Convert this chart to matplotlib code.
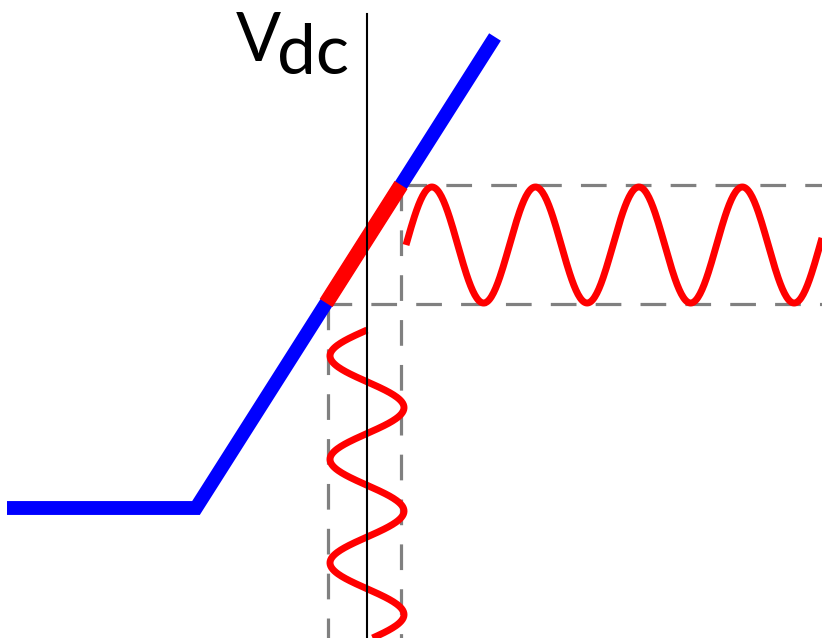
import numpy as np
import matplotlib.pyplot as plt

plt.rcParams['lines.scale_dashes'] = False

# Transfer curve (pixel-like units, y grows downward)
curve_x = [7, 196, 495]
curve_y = [508, 508, 37]

# Bias / operating range on the curve (output levels)
out_hi = 185
out_lo = 303

# Input sine (vertical, along the y axis)
in_center = 367
in_amp = 37
in_period = 103.5
in_start, in_end = 330, 638

# Output sine (horizontal)
out_center = 245
out_amp = 58
out_period = 103.5
out_start, out_end = 406, 822

vline_x = 367
vline_top = 14
label_main = 'V'
label_sub = 'dc'

W, H = 822, 638
fig = plt.figure(figsize=(W / 100, H / 100), dpi=100)
ax = fig.add_axes([0, 0, 1, 1])
ax.set_xlim(0, W)
ax.set_ylim(H, 0)
ax.axis('off')

# points on the transfer curve where the output hits the range limits
slope = (curve_y[2] - curve_y[1]) / (curve_x[2] - curve_x[1])
x_hi = curve_x[1] + (out_hi - curve_y[1]) / slope
x_lo = curve_x[1] + (out_lo - curve_y[1]) / slope

grey = '#808080'
dash = dict(color=grey, lw=2.3, dashes=(18.5, 13.8), zorder=1,
            solid_capstyle='butt', dash_capstyle='butt')

# dashed guide lines
ax.plot([x_hi, W], [out_hi, out_hi], **dash)
ax.plot([x_lo, W], [out_lo + 1, out_lo + 1], **dash)
ax.plot([x_hi, x_hi], [out_hi, H], **dash)
ax.plot([x_lo + 2, x_lo + 2], [out_lo + 1, H], **dash)

# transfer curve
ax.plot(curve_x, curve_y, color='#0000FF', lw=10, solid_capstyle='butt',
        solid_joinstyle='miter', zorder=2)
ax.plot([x_lo, x_hi], [out_lo, out_hi], color='#FF0000', lw=11,
        solid_capstyle='butt', zorder=3)

# input sine
ty = np.linspace(in_start, in_end, 400)
tx = in_center - in_amp * np.sin(2 * np.pi * (ty - in_start) / in_period)
ax.plot(tx, ty, color='#FF0000', lw=5, solid_capstyle='butt', zorder=4)

# output sine
sx = np.linspace(out_start, out_end, 400)
sy = out_center - out_amp * np.sin(2 * np.pi * (sx - out_start) / out_period)
ax.plot(sx, sy, color='#FF0000', lw=5, solid_capstyle='butt', zorder=4)

# vertical reference line
ax.plot([vline_x, vline_x], [vline_top, H], color='black', lw=1.5, zorder=5)

# label
ax.text(236, 61, label_main, fontsize=48, family='Lato', ha='left',
        va='baseline', color='black')
ax.text(277, 74, label_sub, fontsize=50, family='Lato', ha='left',
        va='baseline', color='black')

fig.savefig('out.png', dpi=100)
